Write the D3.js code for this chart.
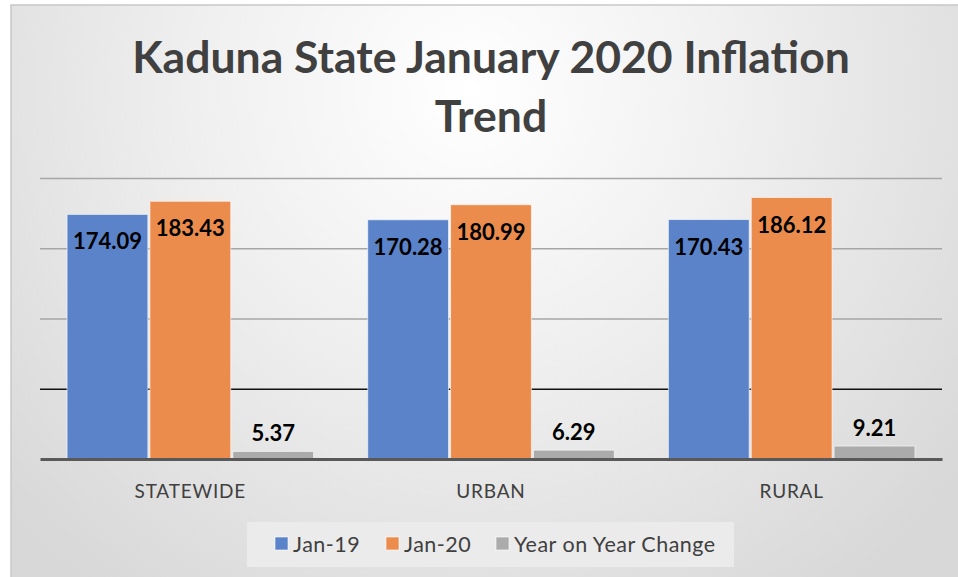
<!DOCTYPE html>
<html><head><meta charset="utf-8">
<script src="https://cdn.jsdelivr.net/npm/d3@7"></script>
<style>html,body{margin:0;padding:0;background:#fff;}svg{display:block;}</style>
</head><body>
<script>
const categories = ["STATEWIDE", "URBAN", "RURAL"];
const seriesNames = ["Jan-19", "Jan-20", "Year on Year Change"];
const jan19 = [174.09, 170.28, 170.43];
const jan20 = [183.43, 180.99, 186.12];
const yoy = [5.37, 6.29, 9.21];
const yTicks = [0, 50, 100, 150, 200];
const titleLines = ["Kaduna State January 2020 Inflation", "Trend"];
const colors = ["#5b83c9", "#ec8c4c", "#ababab"];

const W = 958, H = 577;
const font = "Lato, 'Open Sans', sans-serif";
const svg = d3.select("body").append("svg").attr("width", W).attr("height", H);
const defs = svg.append("defs");
const rg = defs.append("radialGradient").attr("id", "bg").attr("gradientUnits", "userSpaceOnUse")
  .attr("cx", 470).attr("cy", 90).attr("r", 620);
rg.append("stop").attr("offset", "0").attr("stop-color", "#ffffff");
rg.append("stop").attr("offset", "0.45").attr("stop-color", "#efefef");
rg.append("stop").attr("offset", "1").attr("stop-color", "#d8d8d8");

svg.append("rect").attr("x", 11).attr("y", 5).attr("width", W - 11 + 2).attr("height", H - 5 + 2)
  .attr("fill", "url(#bg)").attr("stroke", "#c8c8c8").attr("stroke-width", 1.5);

const plot = {left: 40, right: 942, top: 178, bottom: 459};
const x0 = d3.scaleBand().domain(categories).range([plot.left, plot.right]).paddingInner(0.18).paddingOuter(0.09);
const x1 = d3.scaleBand().domain(seriesNames).range([0, x0.bandwidth()]).paddingInner(0.025);
const y = d3.scaleLinear().domain([0, 200]).range([plot.bottom, plot.top]);

// gridlines
const yAxis = d3.axisLeft(y).tickValues(yTicks.slice(1)).tickSize(-(plot.right - plot.left)).tickFormat("");
const ga = svg.append("g").attr("transform", `translate(${plot.left},0)`).call(yAxis);
ga.select(".domain").remove();
ga.selectAll(".tick line").attr("stroke", d => d === 50 ? "#111" : "#a6a6a6").attr("stroke-width", 1.6);

const data = categories.map((c, i) => ({cat: c, vals: [jan19[i], jan20[i], yoy[i]]}));
const groups = svg.append("g").selectAll("g").data(data).join("g")
  .attr("transform", d => `translate(${x0(d.cat)},0)`);
groups.selectAll("rect").data(d => d.vals.map((v, j) => ({v, s: seriesNames[j], j})))
  .join("rect")
  .attr("x", d => x1(d.s)).attr("width", x1.bandwidth())
  .attr("y", d => y(d.v)).attr("height", d => y(0) - y(d.v))
  .attr("fill", d => colors[d.j]).attr("stroke", "rgba(255,255,255,0.6)").attr("stroke-width", 1);
groups.selectAll("text").data(d => d.vals.map((v, j) => ({v, s: seriesNames[j], j})))
  .join("text")
  .attr("x", d => x1(d.s) + x1.bandwidth() / 2)
  .attr("y", d => d.j < 2 ? y(d.v) + 35 : y(d.v) - 10)
  .attr("text-anchor", "middle").attr("font-family", font).attr("font-weight", "bold")
  .attr("font-size", 22).attr("fill", "#000").text(d => d.v.toFixed(2));

// baseline
const xAxis = d3.axisBottom(x0).tickSize(0).tickPadding(26);
const gx = svg.append("g").attr("transform", `translate(0,${plot.bottom})`).call(xAxis);
gx.select(".domain").attr("stroke", "#595959").attr("stroke-width", 3);
gx.selectAll("text").attr("font-family", font).attr("font-size", 19).attr("fill", "#404040").attr("letter-spacing", 0.8);

// title
svg.append("g").selectAll("text").data(titleLines).join("text")
  .attr("x", 491).attr("y", (d, i) => 73 + i * 59).attr("text-anchor", "middle")
  .attr("font-family", font).attr("font-weight", "bold").attr("font-size", 44.5).attr("fill", "#404040")
  .text(d => d);

// legend
svg.append("rect").attr("x", 247).attr("y", 522).attr("width", 487).attr("height", 45).attr("fill", "#ebebeb");
const legX = [275, 386, 496];
const lg = svg.append("g").selectAll("g").data(seriesNames).join("g")
  .attr("transform", (d, i) => `translate(${legX[i]},544)`);
lg.append("rect").attr("x", 0).attr("y", -7).attr("width", 13).attr("height", 13)
  .attr("fill", (d, i) => colors[i]).attr("stroke", "rgba(255,255,255,0.6)");
lg.append("text").attr("x", 18).attr("y", 8).attr("font-family", font).attr("font-size", 21.5)
  .attr("letter-spacing", 0.5).attr("fill", "#404040").text(d => d);
</script>
</body></html>
